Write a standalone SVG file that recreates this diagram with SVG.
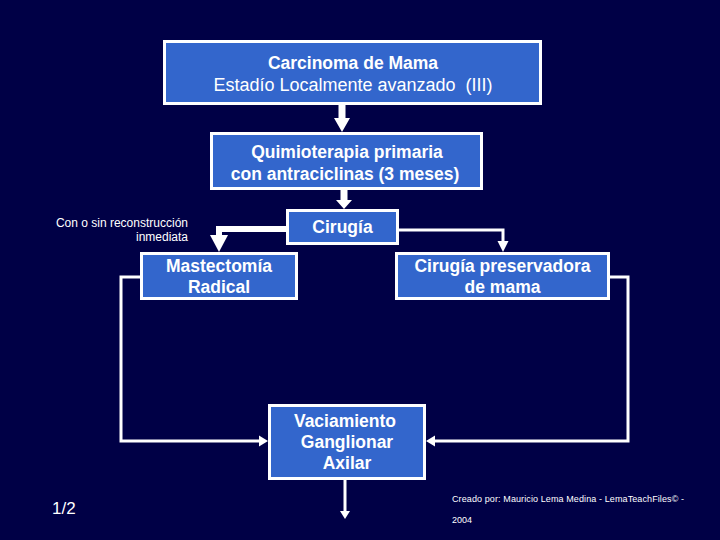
<svg xmlns="http://www.w3.org/2000/svg" width="720" height="540" viewBox="0 0 720 540">
<style>
.box{fill:#3366cc;stroke:#ffffff;stroke-width:3}
.t{font-family:"Liberation Sans",Arial,sans-serif;font-size:18px;fill:#ffffff;text-anchor:middle}
.b{font-weight:bold;font-size:17.5px}
.ln{fill:none;stroke:#ffffff;stroke-width:3}
.hd{fill:#ffffff}
.s{font-family:"Liberation Sans",Arial,sans-serif;font-size:12px;fill:#ffffff;text-anchor:end}
</style>
<rect width="720" height="540" fill="#000046"/>
<g id="connectors">
<path class="hd" d="M338.5,105 H345.5 V118 H350 L342,132 L334,118 H338.5 Z"/>
<path class="hd" d="M340.5,190 H347.5 V200 H352 L344,209 L336,200 H340.5 Z"/>
<path class="ln" style="stroke-width:6" d="M286,229 H219 V237"/>
<polygon class="hd" points="210,235 228,235 219,252"/>
<path class="ln" d="M399,230 H503 V242"/>
<polygon class="hd" points="497.5,241 508.5,241 503,252"/>
<path class="ln" d="M140,277 H121 V441 H260"/>
<polygon class="hd" points="259,435.5 268,441 259,446.5"/>
<path class="ln" d="M610,277 H628 V441 H434"/>
<polygon class="hd" points="435,435.5 426,441 435,446.5"/>
<path class="ln" d="M345,480 V512"/>
<polygon class="hd" points="340,511 350,511 345,519"/>
</g>
<g id="n1">
<rect class="box" x="164.5" y="41.5" width="376" height="62"/>
<text class="t b" x="353" y="69">Carcinoma de Mama</text>
<text class="t" x="353" y="91" xml:space="preserve">Estadío Localmente avanzado  (III)</text>
</g>
<g id="n2">
<rect class="box" x="211.5" y="133.5" width="270" height="55"/>
<text class="t b" x="347" y="158">Quimioterapia primaria</text>
<text class="t b" x="345" y="180">con antraciclinas (3 meses)</text>
</g>
<g id="n3">
<rect class="box" x="287.5" y="210.5" width="110" height="33"/>
<text class="t b" x="342.5" y="233">Cirugía</text>
</g>
<g id="note">
<text class="s" x="188" y="227">Con o sin reconstrucción</text>
<text class="s" x="188" y="241">inmediata</text>
</g>
<g id="n4">
<rect class="box" x="141.5" y="253.5" width="155" height="45"/>
<text class="t b" x="219" y="272">Mastectomía</text>
<text class="t b" x="219" y="293">Radical</text>
</g>
<g id="n5">
<rect class="box" x="396.5" y="253.5" width="212" height="45"/>
<text class="t b" x="502.5" y="272">Cirugía preservadora</text>
<text class="t b" x="502.5" y="293">de mama</text>
</g>
<g id="n6">
<rect class="box" x="269.5" y="405.5" width="155" height="73"/>
<text class="t b" x="345" y="427">Vaciamiento</text>
<text class="t b" x="347" y="448">Ganglionar</text>
<text class="t b" x="347" y="469">Axilar</text>
</g>
<text x="52" y="514" style="font-family:'Liberation Sans',Arial,sans-serif;font-size:17px;fill:#ffffff">1/2</text>
<text x="452" y="502" textLength="232" style="font-family:'Liberation Sans',Arial,sans-serif;font-size:9px;fill:#ffffff">Creado por: Mauricio Lema Medina - LemaTeachFiles© -</text>
<text x="452" y="523" style="font-family:'Liberation Sans',Arial,sans-serif;font-size:9px;fill:#ffffff">2004</text>
</svg>
